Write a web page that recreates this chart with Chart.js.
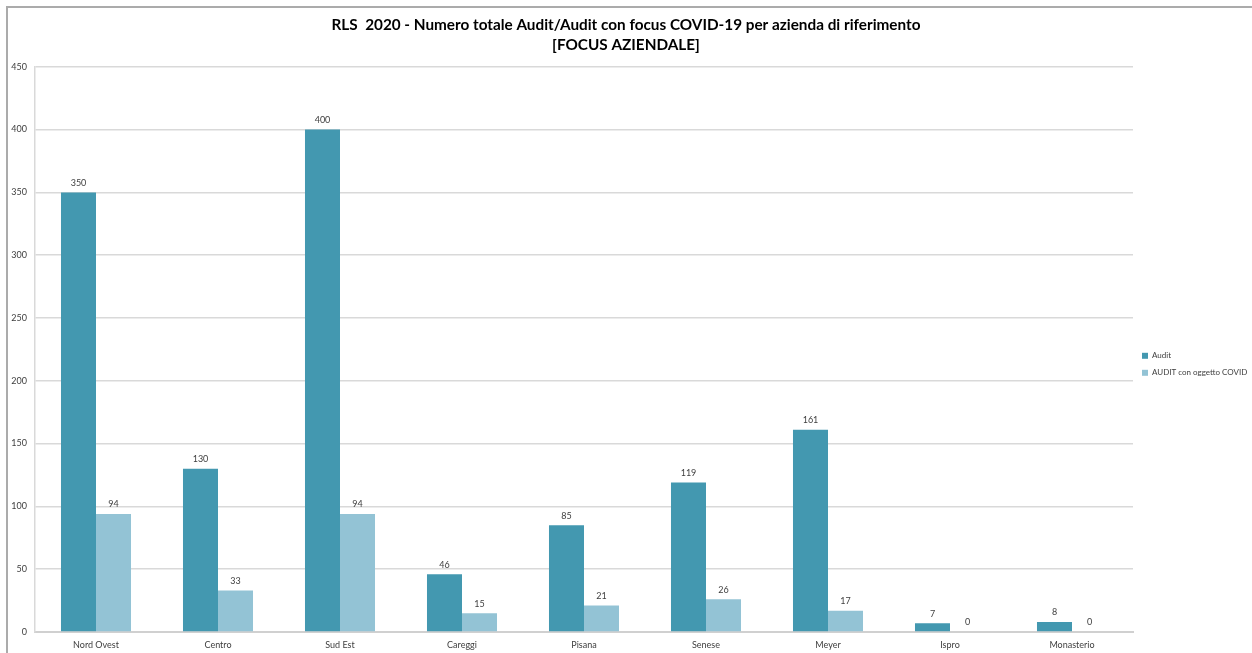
<!DOCTYPE html>
<html>
<head>
<meta charset="utf-8">
<script src="https://cdn.jsdelivr.net/npm/chart.js@4"></script>
<style>
  html, body { margin: 0; padding: 0; background: #fff; }
  #wrap { position: relative; width: 1252px; height: 653px; }
  #frame { position: absolute; left: 6px; top: 6px; right: 0; bottom: 0;
           border-left: 2px solid #ababab; border-top: 2px solid #ababab; }
  canvas { position: absolute; left: 0; top: 0; }
</style>
</head>
<body>
<div id="wrap">
  <div id="frame"></div>
  <canvas id="auditChart" width="1252" height="653"></canvas>
</div>
<script>
// Aziende di riferimento
const aziende = ['Nord Ovest', 'Centro', 'Sud Est', 'Careggi', 'Pisana', 'Senese', 'Meyer', 'Ispro', 'Monasterio'];
// Audit totali per azienda
const auditTotali = [350, 130, 400, 46, 85, 119, 161, 7, 8];
// Audit con oggetto COVID
const auditCovid = [94, 33, 94, 15, 21, 26, 17, 0, 0];
const yTicks = [0, 50, 100, 150, 200, 250, 300, 350, 400, 450];

const labelFont = 'Lato, "Open Sans", sans-serif';

// valori sopra le barre
const valueLabels = {
  id: 'valueLabels',
  afterDatasetsDraw(chart) {
    const ctx = chart.ctx;
    ctx.save();
    ctx.font = '9px ' + labelFont;
    ctx.fillStyle = '#404040';
    ctx.textAlign = 'center';
    ctx.textBaseline = 'bottom';
    chart.data.datasets.forEach((ds, i) => {
      chart.getDatasetMeta(i).data.forEach((bar, j) => {
        ctx.fillText(ds.data[j], bar.x, bar.y - 5);
      });
    });
    ctx.restore();
  }
};

// legenda a larghezza fissa sulla destra
const fixedLegend = {
  id: 'fixedLegend',
  beforeLayout(chart) {
    const lg = chart.legend;
    if (!lg || lg._fixed) return;
    const fit = lg.fit;
    lg.fit = function () {
      fit.call(this);
      this.width = 119;
    };
    lg._fixed = true;
  }
};

new Chart(document.getElementById('auditChart').getContext('2d'), {
  type: 'bar',
  data: {
    labels: aziende,
    datasets: [
      {
        label: 'Audit',
        data: auditTotali,
        backgroundColor: '#4398b0',
        barPercentage: 1,
        categoryPercentage: 0.574
      },
      {
        label: 'AUDIT con oggetto COVID',
        data: auditCovid,
        backgroundColor: '#93c3d5',
        barPercentage: 1,
        categoryPercentage: 0.574
      }
    ]
  },
  plugins: [valueLabels, fixedLegend],
  options: {
    responsive: false,
    animation: false,
    layout: { padding: 0 },
    plugins: {
      title: {
        display: true,
        text: ['RLS  2020 - Numero totale Audit/Audit con focus COVID-19 per azienda di riferimento', '[FOCUS AZIENDALE]'],
        color: '#000',
        font: { family: labelFont, size: 15.3, weight: 'bold', lineHeight: 1.3 },
        padding: { top: 15, bottom: 12 }
      },
      legend: {
        position: 'right',
        title: { display: true, text: ' ', font: { size: 8 }, padding: { top: 66, bottom: 0 } },
        labels: {
          boxWidth: 6,
          boxHeight: 6,
          padding: 9,
          color: '#404040',
          font: { family: labelFont, size: 8 }
        }
      },
      tooltip: { enabled: false }
    },
    scales: {
      x: {
        grid: { display: false },
        border: { display: true, color: '#d0d0d0', width: 2 },
        ticks: { color: '#404040', font: { family: labelFont, size: 9 }, padding: 0 },
        afterFit(scale) { scale.height = 21; }
      },
      y: {
        min: 0,
        max: 450,
        afterBuildTicks(scale) { scale.ticks = yTicks.map(v => ({ value: v })); },
        grid: { color: '#d9d9d9', lineWidth: 1.5, drawTicks: false },
        border: { display: true, color: '#d9d9d9', width: 1.5 },
        ticks: { color: '#404040', font: { family: labelFont, size: 9 }, padding: 8 },
        afterFit(scale) { scale.width = 35; }
      }
    }
  }
});
</script>
</body>
</html>
